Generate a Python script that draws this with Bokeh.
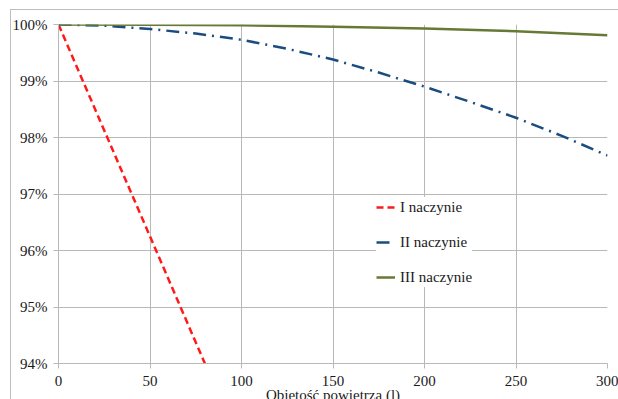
from bokeh.plotting import figure
from bokeh.models import Range1d, FixedTicker, CustomJSTickFormatter, Legend, LegendItem, InlineStyleSheet
from bokeh.embed import file_html
from bokeh.resources import INLINE

# Data
x_I = [0, 20, 40, 60, 80]
y_I = [100.0, 98.5, 97.0, 95.5, 94.0]

x_II = [0, 25, 50, 75, 100, 125, 150, 175, 200, 225, 250, 275, 300]
y_II = [100.0, 99.98, 99.92, 99.84, 99.73, 99.57, 99.38, 99.15, 98.9, 98.63, 98.35, 98.03, 97.68]

x_III = [0, 50, 100, 150, 200, 250, 300]
y_III = [100.0, 99.995, 99.985, 99.96, 99.93, 99.88, 99.81]

x_ticks = [0, 50, 100, 150, 200, 250, 300]
y_ticks = [94, 95, 96, 97, 98, 99, 100]
labels = ["I naczynie", "II naczynie", "III naczynie"]
x_title = "Objętość powietrza (l)"

FONT = "Times New Roman"
GRID = "#b8b8b8"
TXT = "#1a1a1a"

# The chart is taller than the window: its axis title is cut at the bottom, as in the reference.
p = figure(width=618, height=420, output_backend="svg", toolbar_location=None,
           x_range=Range1d(0, 300), y_range=Range1d(94, 100),
           min_border_left=58, min_border_right=11, min_border_top=24, min_border_bottom=57)
p.outline_line_color = None
p.background_fill_color = "white"
p.border_fill_color = "white"

for ax in (p.xaxis[0], p.yaxis[0]):
    ax.axis_line_color = GRID
    ax.major_tick_line_color = GRID
    ax.major_tick_out = 5
    ax.major_tick_in = 0
    ax.minor_tick_line_color = None
    ax.major_label_text_font = FONT
    ax.major_label_text_font_size = "15px"
    ax.major_label_text_color = TXT

p.xaxis[0].ticker = FixedTicker(ticks=x_ticks)
p.yaxis[0].ticker = FixedTicker(ticks=y_ticks)
p.yaxis[0].formatter = CustomJSTickFormatter(code="return tick.toFixed(0) + '%';")
p.yaxis[0].major_label_standoff = 6
p.xaxis[0].major_label_standoff = 7
p.xaxis[0].axis_label = x_title
p.xaxis[0].axis_label_text_font = FONT
p.xaxis[0].axis_label_text_font_size = "15px"
p.xaxis[0].axis_label_text_font_style = "normal"
p.xaxis[0].axis_label_text_color = TXT
p.xaxis[0].axis_label_standoff = -2

p.xgrid.grid_line_color = GRID
p.ygrid.grid_line_color = GRID
p.xgrid.ticker = FixedTicker(ticks=x_ticks)
p.ygrid.ticker = FixedTicker(ticks=y_ticks)

r1 = p.line(x_I, y_I, line_color="#ff1a1a", line_width=2.5, line_dash="7 4")
r2 = p.line(x_II, y_II, line_color="#1a4c80", line_width=2.5, line_dash="13 6 2 6")
r3 = p.line(x_III, y_III, line_color="#667a36", line_width=2.5)

legend = Legend(items=[LegendItem(label=labels[0], renderers=[r1]),
                       LegendItem(label=labels[1], renderers=[r2]),
                       LegendItem(label=labels[2], renderers=[r3])],
                location=(318, 76))
legend.label_text_font = FONT
legend.label_text_font_size = "15px"
legend.label_text_color = TXT
legend.glyph_width = 19
legend.glyph_height = 20
legend.label_height = 20
legend.label_standoff = 5
legend.spacing = 15
legend.padding = 4
legend.margin = 0
legend.border_line_color = None
legend.background_fill_color = "white"
legend.background_fill_alpha = 1.0
p.add_layout(legend)

# outer chart-area border (partly outside the window, as in the reference)
p.stylesheets = [InlineStyleSheet(css="""
:host { overflow: hidden; }
:host::after {
  content: ""; position: absolute; left: 10px; top: 9px;
  width: 620px; height: 420px; border: 1px solid #bdbdbd;
  box-sizing: border-box; pointer-events: none;
}
""")]

html = file_html(p, INLINE)
html = html.replace("<head>", "<head><style>html, body { margin: 0; overflow: hidden; }</style>", 1)
open("out.html", "w").write(html)
